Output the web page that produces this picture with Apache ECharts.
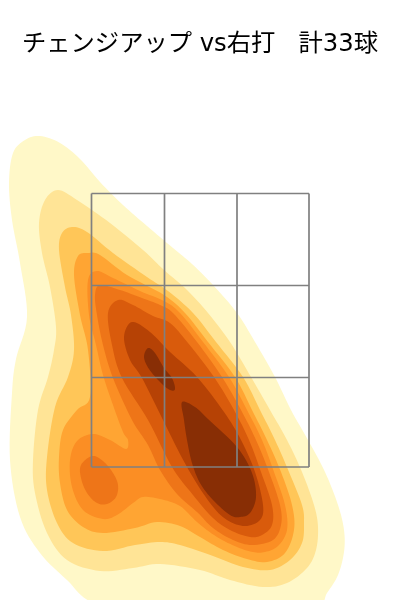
<!DOCTYPE html>
<html><head><meta charset="utf-8">
<style>html,body{margin:0;padding:0;background:#fff}#c{width:400px;height:600px}</style>
<script src="https://cdn.jsdelivr.net/npm/echarts@6/dist/echarts.min.js"></script>
</head><body><div id="c"></div>
<script>
const titleText = 'チェンジアップ vs右打   計33球';
const levelColors = ['#FFF8C8','#FFE496','#FFC658','#FFA533','#FB8E24','#EE7518','#D95B0C','#B64205','#882E05'];
const contour1 = [[40,136],[60,143],[80,159],[100,182],[123,205],[147,226],[173,248],[192,264],[213,285],[237,313],[255,342],[275,377],[291,410],[308,440],[325,472],[338,505],[344,530],[344,552],[338,575],[327,593],[316,608],[260,625],[160,625],[93,603],[67,580],[40,553],[20,517],[10,460],[12,393],[16,359],[27,317],[20,263],[12,220],[9,183],[13,153],[25,140]];
const contour2 = [[58,190],[77,200],[110,223],[143,250],[164,270],[187,290],[208,313],[230,342],[251,377],[270,410],[287,440],[302,472],[314,505],[318,527],[316,550],[307,568],[287,583],[263,587],[230,580],[200,570],[160,564],[133,568],[100,571],[67,560],[47,533],[35,493],[33,460],[38,410],[48,377],[54,350],[56,327],[50,287],[42,253],[39,223],[45,200]];
const contour3 = [[72,227],[87,232],[113,253],[147,277],[168,291],[193,313],[216,342],[243,377],[260,410],[275,440],[289,472],[302,505],[304,523],[302,543],[290,560],[270,570],[243,567],[213,556],[180,545],[160,542],[135,545],[103,551],[73,543],[57,523],[47,490],[47,457],[55,407],[68,377],[74,350],[71,315],[65,287],[59,250],[62,233]];
const contour4 = [[78,256],[88,253],[100,255],[127,275],[164,295],[185,313],[208,342],[235,377],[252,410],[267,440],[281,472],[292,505],[294,530],[285,553],[267,562],[247,559],[223,550],[200,537],[180,526],[157,522],[135,528],[103,533],[83,527],[67,510],[60,483],[59,457],[63,430],[77,410],[90,397],[88,350],[80,315],[74,275]];
const contour5 = [[88,280],[97,271],[113,278],[140,291],[164,301],[180,313],[203,342],[229,377],[247,410],[262,440],[274,472],[285,505],[287,530],[278,546],[265,552],[253,552],[237,547],[217,537],[197,522],[180,506],[160,499],[143,497],[133,503],[117,515],[103,519],[83,510],[72,487],[70,460],[77,441],[93,434],[110,440],[126,449],[128,440],[123,432],[113,405],[103,375],[96,345],[89,315]];
const contour6a = [[95,295],[100,285],[120,290],[142,298],[160,305],[173,313],[197,342],[222,377],[241,410],[256,440],[269,472],[280,505],[281,525],[273,540],[252,545],[233,540],[213,528],[197,512],[177,494],[160,470],[148,445],[132,420],[113,378],[103,345],[97,315]];
const contour6b = [[92,456],[103,461],[113,473],[118,485],[116,497],[107,504],[97,503],[87,493],[81,478],[81,465]];
const contour7 = [[108,313],[118,300],[133,305],[153,316],[170,323],[188,343],[214,377],[234,410],[249,440],[261,472],[272,505],[272,525],[262,535],[250,537],[230,530],[213,518],[193,495],[172,467],[148,420],[122,378],[112,345]];
const contour8 = [[124,337],[132,322],[150,332],[170,352],[197,377],[224,412],[241,440],[255,472],[263,505],[260,520],[245,526],[227,520],[210,503],[187,467],[163,420],[142,378],[130,360]];
const contour9a = [[148,348],[155,353],[164,368],[172,378],[175,389],[170,390],[161,383],[149,369],[144,357]];
const contour9b = [[182,402],[195,407],[208,419],[237,447],[252,473],[256,497],[250,513],[240,517],[230,515],[213,500],[200,483],[192,463],[187,440],[184,420]];
const zoneV = [[91.5,193.5,467],[164.5,193.5,467],[237,193.5,467],[309,193.5,467]];
const zoneH = [[193.5,91.5,309],[285.5,91.5,309],[377.5,91.5,309],[467,91.5,309]];

const layers = [[contour1,0],[contour2,1],[contour3,2],[contour4,3],[contour5,4],[contour6a,5],[contour6b,5],[contour7,6],[contour8,7],[contour9a,8],[contour9b,8]];
const zoneData = [];
zoneV.forEach(v=>{zoneData.push([v[0],v[1]],[v[0],v[2]],[null,null]);});
zoneH.forEach(h=>{zoneData.push([h[1],h[0]],[h[2],h[0]],[null,null]);});

// flatten a closed Catmull-Rom spline through the projected outline for drawing
function closedCurve(p){
  const n=p.length, out=[];
  for(let i=0;i<n;i++){
    const a=p[(i-1+n)%n],b=p[i],c=p[(i+1)%n],e=p[(i+2)%n];
    for(let k=0;k<8;k++){
      const t=k/8,t2=t*t,t3=t2*t;
      out.push([0,1].map(j=>0.5*(2*b[j]+(c[j]-a[j])*t+(2*a[j]-5*b[j]+4*c[j]-e[j])*t2+(3*b[j]-a[j]-3*c[j]+e[j])*t3)));
    }
  }
  return out;
}

const chart = echarts.init(document.getElementById('c'),null,{renderer:'canvas'});
chart.setOption({
  animation:false,
  backgroundColor:'#fff',
  title:{text:titleText,left:'center',top:28,textStyle:{fontFamily:'"DejaVu Sans","Noto Sans CJK JP"',fontSize:24.3,fontWeight:'normal',color:'#000'}},
  grid:{left:0,right:0,top:0,bottom:0},
  xAxis:{type:'value',min:0,max:400,show:false},
  yAxis:{type:'value',min:0,max:600,inverse:true,show:false},
  series:[
    ...layers.map(([pts,lv])=>({
      type:'custom',coordinateSystem:'cartesian2d',clip:true,silent:true,
      data:[[0,0]],
      encode:{x:0,y:1},
      renderItem:(p,api)=>({type:'polygon',shape:{points:closedCurve(pts.map(q=>api.coord(q)))},style:{fill:levelColors[lv]}})
    })),
    {type:'line',data:zoneData,connectNulls:false,showSymbol:false,symbol:'none',silent:true,lineStyle:{color:'#808080',width:1.7},z:10}
  ]
});
</script></body></html>
